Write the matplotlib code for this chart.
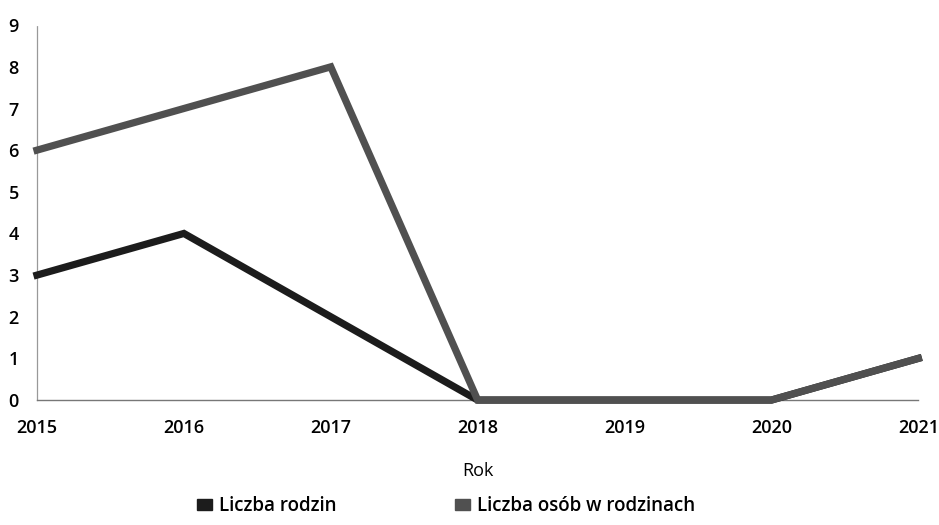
import matplotlib
matplotlib.use("Agg")
import matplotlib.pyplot as plt
from matplotlib.patches import Patch

years = [2015, 2016, 2017, 2018, 2019, 2020, 2021]
liczba_rodzin = [3, 4, 2, 0, 0, 0, 1]
liczba_osob = [6, 7, 8, 0, 0, 0, 1]
y_ticks = list(range(0, 10))

COLOR_RODZIN = "#1c1c1c"
COLOR_OSOB = "#505050"

plt.rcParams["font.family"] = ["Open Sans", "DejaVu Sans"]

fig = plt.figure(figsize=(9.39, 5.25), dpi=100)
ax = fig.add_axes([0.0394, 0.238, 0.9386, 0.714])

ax.plot(years, liczba_rodzin, color=COLOR_RODZIN, linewidth=5.2,
        solid_joinstyle="miter", zorder=3, clip_on=False)
ax.plot(years, liczba_osob, color=COLOR_OSOB, linewidth=5.2,
        solid_joinstyle="miter", zorder=4, clip_on=False)

ax.set_xlim(years[0], years[-1])
ax.set_ylim(0, 9)
ax.set_xticks(years)
ax.set_yticks(y_ticks)
ax.tick_params(axis="both", length=0, labelsize=13, colors="black")
ax.tick_params(axis="y", pad=13)
ax.tick_params(axis="x", pad=14)
for lbl in ax.get_xticklabels() + ax.get_yticklabels():
    lbl.set_fontweight("semibold")

for side in ["top", "right"]:
    ax.spines[side].set_visible(False)
ax.spines["left"].set_color("#999999")
ax.spines["left"].set_linestyle((0, (1, 1)))
ax.spines["left"].set_linewidth(0.9)
ax.spines["bottom"].set_color("#777777")
ax.spines["bottom"].set_linewidth(1.0)

ax.set_xlabel("Rok", fontsize=13, labelpad=18)

handles = [Patch(facecolor=COLOR_RODZIN, edgecolor=COLOR_RODZIN, label="Liczba rodzin"),
           Patch(facecolor=COLOR_OSOB, edgecolor=COLOR_OSOB, label="Liczba osób w rodzinach")]
fig.legend(handles=handles, loc="center", bbox_to_anchor=(0.475, 0.036), ncol=2,
           frameon=False, handlelength=0.8, handleheight=0.5,
           handletextpad=0.4, columnspacing=6.3,
           prop={"family": ["Open Sans", "DejaVu Sans"], "size": 13.5, "weight": "semibold"})

fig.savefig("out.png", dpi=100)
